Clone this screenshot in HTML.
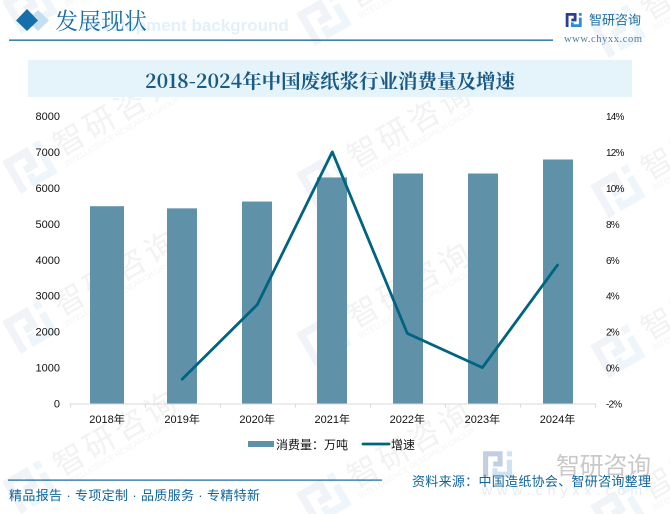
<!DOCTYPE html>
<html lang="zh">
<head>
<meta charset="utf-8">
<title>2018-2024年中国废纸浆行业消费量及增速</title>
<style>
html,body{margin:0;padding:0;background:#fff;width:670px;height:514px;overflow:hidden}
svg{display:block;overflow:hidden}
text{font-family:"Liberation Sans","Noto Sans CJK SC",sans-serif}
.serif{font-family:"Liberation Serif","Noto Serif CJK SC",serif}
.cjkserif{font-family:"Noto Serif CJK SC","Liberation Serif",serif}
</style>
</head>
<body>
<svg id="chart" xmlns="http://www.w3.org/2000/svg" width="670" height="514" viewBox="0 0 670 514">
  <defs>
    <clipPath id="page-clip"><rect width="670" height="514"/></clipPath>
    <path id="logo-left" d="M-17 -15H6V3H-5V-3H0V-9H-11V15H-17Z"/>
    <path id="logo-right" d="M11 -15H17V-9H11Z M11 -5H17V15H-6V5H0V9H11Z"/>
  </defs>
  <rect width="670" height="514" fill="#fff"/>
  <g id="watermarks" clip-path="url(#page-clip)"></g>

  <text x="80" y="31" font-size="17" font-weight="700" fill="#e3f0fa">Development background</text>
  <path d="M38 10 L49 20.5 L38 31 L27 20.5Z" fill="#c5dff0"/>
  <path d="M27 9 L38 20.5 L27 31 L16 20.5Z" fill="#156fa8"/>
  <text class="cjkserif" x="55" y="29" font-size="23" fill="#1a6ea8">发展现状</text>
  <rect x="9" y="39.5" width="544" height="1.3" fill="#0f659c"/>

  <g transform="translate(573.7,20) scale(.47)">
    <use href="#logo-left" fill="#2b3f8f"/><use href="#logo-right" fill="#2a8fd0"/>
  </g>
  <text x="589" y="24.5" font-size="13" fill="#1f6ea5" textLength="52">智研咨询</text>
  <text class="serif" x="564" y="42" font-size="10.5" fill="#4a7f9f" textLength="78">www.chyxx.com</text>

  <rect x="28" y="60" width="604" height="37" fill="#e5f3fb"/>
  <text class="cjkserif" x="330" y="88" font-size="19.5" font-weight="700" fill="#1a5a85" text-anchor="middle" textLength="370">2018-2024年中国废纸浆行业消费量及增速</text>

  <g id="bars"></g>
  <g id="x-axis"></g>
  <g id="y-left"></g>
  <g id="y-right"></g>
  <path id="growth-line" fill="none" stroke="#00637f" stroke-width="2.8" stroke-linejoin="round" stroke-linecap="round"/>

  <g>
    <rect x="248" y="441" width="26" height="6" fill="#5f92a9"/>
    <text x="276" y="449" font-size="12" fill="#111">消费量：万吨</text>
    <line x1="363" y1="444" x2="389" y2="444" stroke="#00637f" stroke-width="2.8" stroke-linecap="round"/>
    <text x="391" y="449" font-size="12" fill="#111">增速</text>
  </g>

  <g transform="translate(497.5,464) scale(.85)">
    <use href="#logo-left" fill="#c3cfe0"/><use href="#logo-right" fill="#cde3f2"/>
  </g>
  <text x="556" y="474" font-size="24" fill="#c9c9c9" textLength="95">智研咨询</text>
  <text x="482" y="495" font-size="14" fill="#e6ebef" textLength="160">www.chyxx.com</text>
  <rect x="8" y="479.5" width="374" height="1.2" fill="#0f659c"/>
  <text x="9" y="500" font-size="13" fill="#0f659c" textLength="251">精品报告 · 专项定制 · 品质服务 · 专精特新</text>
  <text x="412" y="486" font-size="13" fill="#0f659c" textLength="239">资料来源：中国造纸协会、智研咨询整理</text>
</svg>
<script>
const categories = ['2018年','2019年','2020年','2021年','2022年','2023年','2024年'];
const consumption = [5490, 5430, 5620, 6290, 6400, 6400, 6790];
const growth = [null, -0.65, 3.5, 12.0, 1.9, 0.0, 5.7];
const leftTicks = [0, 1000, 2000, 3000, 4000, 5000, 6000, 7000, 8000];
const rightTicks = [-2, 0, 2, 4, 6, 8, 10, 12, 14];

const NS = 'http://www.w3.org/2000/svg';
const plot = {left: 69.5, right: 595, top: 116, bottom: 403.5};
const band = (plot.right - plot.left) / categories.length;
function barWidth(i) { return i === 0 ? 34 : 30; }
function xCenter(i) { return plot.left + band * (i + 0.5); }
function yLeft(v) { return plot.bottom - (v - 0) / (8000 - 0) * (plot.bottom - plot.top); }
function yRight(v) { return plot.bottom - (v + 2) / (14 + 2) * (plot.bottom - plot.top); }
function make(tag, props, parent) {
  const el = document.createElementNS(NS, tag);
  for (const k in props) el.setAttribute(k, props[k]);
  parent.appendChild(el);
  return el;
}

const barsG = document.getElementById('bars');
consumption.forEach(function (v, i) {
  const y = yLeft(v);
  const w = barWidth(i);
  const bar = make('rect', {x: Math.round(xCenter(i) + 0.2 - w / 2), y: y, width: w, height: plot.bottom - y, fill: '#5f92a9'}, barsG);
  
  
});

const xG = document.getElementById('x-axis');
const axisLine = make('line', {x1: plot.left, y1: plot.bottom + .5, x2: plot.right, y2: plot.bottom + .5, stroke: '#d9d9d9', 'stroke-width': 1}, xG);


for (let i = 0; i <= categories.length; i++) {
  const tx = Math.round(plot.left + band * i) + .5;
  const tick = make('line', {x1: tx, y1: plot.bottom, x2: tx, y2: plot.bottom + 4, stroke: '#d9d9d9', 'stroke-width': 1}, xG);
  
  
}
categories.forEach(function (c, i) {
  const t = make('text', {x: xCenter(i), y: 423, 'font-size': 11, fill: '#111', 'text-anchor': 'middle'}, xG);
  t.textContent = c;
  
  
});

const yLG = document.getElementById('y-left');
leftTicks.forEach(function (v) {
  const t = make('text', {x: 60, y: yLeft(v) + 4, 'font-size': 11, fill: '#111', 'text-anchor': 'end'}, yLG);
  t.textContent = String(v);
  
  
});

const yRG = document.getElementById('y-right');
rightTicks.forEach(function (v) {
  const t = make('text', {x: 606, y: yRight(v) + 4, 'font-size': 10, fill: '#111', 'letter-spacing': '-.8'}, yRG);
  t.textContent = v + '%';
  
  
});

let d = '';
growth.forEach(function (v, i) {
  if (v === null) return;
  d += (d ? ' L' : 'M') + xCenter(i).toFixed(1) + ' ' + yRight(v).toFixed(1);
});
document.getElementById('growth-line').setAttribute('d', d);

const wmG = document.getElementById('watermarks');
const wmColumns = [0, 294, 588];
const wmRows = [-128, 32, 192, 352];
wmColumns.forEach(function (cx, c) {
  wmRows.forEach(function (ry) {
    const ox = 30 + cx;
    const oy = 135 + ry + c * 12;
    const g = make('g', {transform: 'translate(' + ox + ',' + oy + ') rotate(-30)'}, wmG);
    
    
    const logoA = make('use', {href: '#logo-left', transform: 'scale(1.25)', fill: '#f0f3f7'}, g);
    
    
    const logoB = make('use', {href: '#logo-right', transform: 'scale(1.25)', fill: '#eef6fb'}, g);
    
    
    const t = make('text', {x: 32, y: 7, 'font-size': 31, fill: '#f2f2f2', 'letter-spacing': '4'}, g);
    t.textContent = '智研咨询';
    
    
    const s = make('text', {x: 32, y: 18, 'font-size': 8, fill: '#f4f4f4', textLength: 132}, g);
    s.textContent = 'INTELLIGENCE RESEARCH GROUP';
    
    
  });
});
</script>
</body>
</html>
